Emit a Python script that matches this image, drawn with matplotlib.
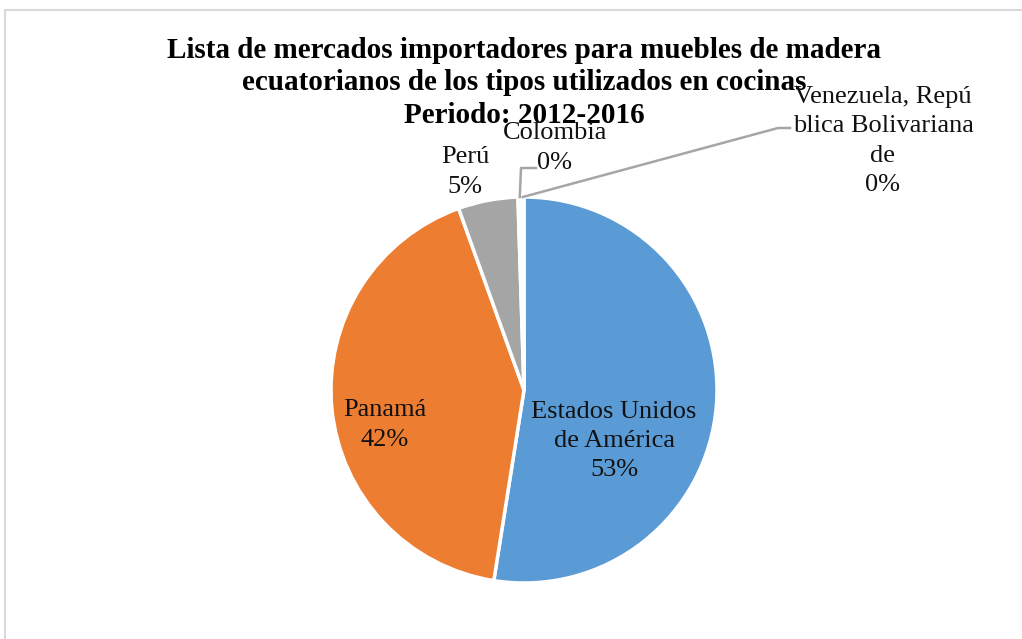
import matplotlib.pyplot as plt
import matplotlib.patches as mpatches
import numpy as np

plt.rcParams['font.family'] = ['Liberation Serif', 'DejaVu Serif']

# data
paises = ['Estados Unidos\nde América', 'Panamá', 'Perú', 'Colombia',
          'Venezuela, Repú\nblica Bolivariana\nde']
valores = [52.5, 42.0, 5.0, 0.3, 0.2]
etiquetas = ['53%', '42%', '5%', '0%', '0%']
colores = ['#5B9BD5', '#ED7D31', '#A5A5A5', '#FFC000', '#4472C4']

W, H = 1022, 639
fig = plt.figure(figsize=(W / 100, H / 100), dpi=100)
ax = fig.add_axes([0, 0, 1, 1])

# frame of the chart area (partly cut off)
fig.patches.append(mpatches.Rectangle((5 / W, -0.1), 1.2, (H - 10) / H + 0.1,
                                      transform=fig.transFigure, fill=False,
                                      edgecolor='#D9D9D9', linewidth=1.5))

cx, cy, r = 524, H - 390, 193
wedges, _ = ax.pie(valores, colors=colores, startangle=90, counterclock=False,
                   center=(cx, cy), radius=r,
                   wedgeprops=dict(edgecolor='white', linewidth=2.5))
ax.set_xlim(0, W)
ax.set_ylim(0, H)
ax.set_aspect('equal')
ax.axis('off')

fs = 19
# labels inside / around
pos = [(614, 441), (385, 425), (465, 172), (555, 148), (883, 141)]
for i, (x, y) in enumerate(pos):
    ax.text(x, H - y, paises[i] + '\n' + etiquetas[i], ha='center', va='center',
            fontsize=fs, linespacing=1.43, color='#111111')

# leader lines for the small slices
def edge_point(w):
    ang = np.deg2rad((w.theta1 + w.theta2) / 2)
    return cx + r * np.cos(ang), cy + r * np.sin(ang)

x0, y0 = edge_point(wedges[3])
ax.plot([x0, 521, 536], [y0, H - 168, H - 168], color='#A6A6A6', lw=1.8)
x0, y0 = edge_point(wedges[4])
ax.plot([x0, 778, 790], [y0, H - 128, H - 128], color='#A6A6A6', lw=1.8)

titulo = ('Lista de mercados importadores para muebles de madera\n'
          'ecuatorianos de los tipos utilizados en cocinas\n'
          'Periodo: 2012-2016')
ax.text(524, H - 83, titulo, ha='center', va='center', fontsize=21,
        fontweight='bold', linespacing=1.28, zorder=1)

fig.savefig('out.png', dpi=100)
